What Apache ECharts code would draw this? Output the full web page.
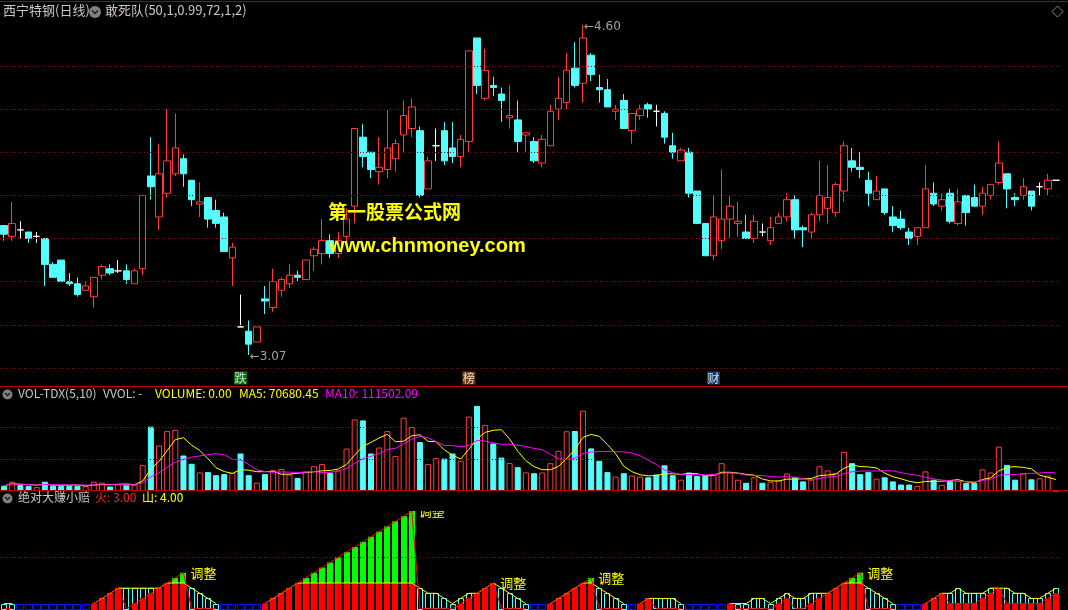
<!DOCTYPE html>
<html>
<head>
<meta charset="utf-8">
<script src="https://cdn.jsdelivr.net/npm/echarts@6/dist/echarts.min.js"></script>
<style>
html,body{margin:0;padding:0;background:#000;}
#c{width:1068px;height:610px;}
</style>
</head>
<body>
<div id="c"></div>
<script>
// ---------------- DATA ----------------
const openP  = [3.67,3.62,3.65,3.64,3.62,3.61,3.49,3.51,3.41,3.40,3.37,3.34,3.44,3.47,3.46,3.46,3.40,3.47,3.90,3.71,3.82,3.91,3.98,3.88,3.77,3.80,3.74,3.71,3.52,3.20,3.18,3.13,3.33,3.29,3.37,3.40,3.44,3.42,3.53,3.54,3.60,3.54,3.62,3.76,4.08,4.01,3.92,3.93,3.98,4.09,4.12,4.11,3.84,4.04,4.11,4.03,3.99,4.06,4.54,4.26,4.32,4.28,4.17,4.16,4.09,4.06,3.96,4.04,4.21,4.24,4.40,4.33,4.46,4.31,4.30,4.20,4.25,4.11,4.18,4.23,4.20,4.19,4.04,3.97,4.01,3.83,3.68,3.53,3.60,3.70,3.68,3.64,3.61,3.64,3.60,3.68,3.71,3.79,3.66,3.64,3.72,3.75,3.73,3.83,3.97,3.94,3.88,3.79,3.84,3.71,3.70,3.64,3.62,3.66,3.82,3.76,3.82,3.68,3.81,3.80,3.76,3.81,3.87,3.91,3.80,3.81,3.83,3.85,3.84,3.88];
const closeP = [3.63,3.68,3.65,3.61,3.62,3.49,3.43,3.41,3.40,3.35,3.39,3.43,3.48,3.45,3.46,3.42,3.46,3.81,3.85,3.91,3.97,4.03,3.91,3.79,3.78,3.70,3.68,3.55,3.57,3.20,3.12,3.20,3.32,3.41,3.42,3.44,3.43,3.51,3.56,3.60,3.54,3.60,3.70,4.12,3.99,3.93,3.94,4.03,4.05,4.18,4.22,3.81,3.97,4.04,3.97,3.99,4.07,4.48,4.32,4.39,4.31,4.25,4.18,4.06,4.10,3.97,4.07,4.20,4.26,4.39,4.32,4.54,4.37,4.30,4.22,4.21,4.12,4.19,4.21,4.21,4.20,4.08,4.01,4.02,3.82,3.68,3.53,3.71,3.70,3.76,3.69,3.61,3.69,3.64,3.66,3.71,3.79,3.65,3.65,3.72,3.81,3.80,3.86,4.04,3.94,3.93,3.82,3.83,3.73,3.67,3.66,3.61,3.66,3.84,3.77,3.79,3.69,3.78,3.73,3.76,3.82,3.86,3.96,3.84,3.79,3.85,3.76,3.85,3.88,3.88];
const lowP   = [3.60,3.60,3.61,3.59,3.59,3.39,3.43,3.41,3.39,3.34,3.37,3.29,3.42,3.44,3.45,3.40,3.40,3.44,3.79,3.65,3.80,3.90,3.85,3.76,3.71,3.66,3.66,3.55,3.39,3.20,3.07,3.13,3.26,3.27,3.34,3.38,3.41,3.42,3.46,3.49,3.52,3.52,3.59,3.68,3.94,3.89,3.86,3.89,3.92,4.01,4.08,3.80,3.84,3.97,3.95,3.96,3.94,4.01,4.28,4.25,4.27,4.15,4.12,4.01,4.01,3.96,3.94,4.04,4.16,4.21,4.31,4.24,4.34,4.24,4.22,4.16,4.12,4.05,4.16,4.17,4.13,4.05,3.98,3.97,3.80,3.68,3.53,3.51,3.56,3.61,3.62,3.61,3.59,3.62,3.58,3.68,3.69,3.61,3.57,3.61,3.69,3.68,3.71,3.78,3.92,3.89,3.76,3.79,3.72,3.64,3.65,3.58,3.58,3.66,3.76,3.74,3.68,3.67,3.67,3.76,3.72,3.79,3.86,3.75,3.76,3.79,3.74,3.81,3.81,3.88];
const highP  = [3.67,3.78,3.69,3.64,3.64,3.61,3.50,3.51,3.45,3.43,3.41,3.43,3.49,3.49,3.51,3.49,3.47,3.81,4.08,4.05,4.21,4.19,4.00,3.88,3.87,3.80,3.79,3.73,3.59,3.35,3.23,3.20,3.39,3.47,3.43,3.49,3.46,3.51,3.57,3.70,3.63,3.64,3.75,4.12,4.14,4.01,4.08,4.21,4.07,4.25,4.26,4.13,3.99,4.12,4.15,4.15,4.09,4.48,4.54,4.49,4.36,4.31,4.32,4.25,4.10,4.08,4.09,4.23,4.36,4.47,4.52,4.60,4.47,4.37,4.35,4.23,4.28,4.19,4.23,4.24,4.23,4.20,4.10,4.03,4.03,3.83,3.68,3.81,3.93,3.81,3.78,3.72,3.72,3.68,3.71,3.73,3.82,3.81,3.67,3.73,3.97,3.95,3.87,4.06,4.03,4.01,3.92,3.90,3.84,3.76,3.74,3.66,3.66,3.95,3.87,3.82,3.84,3.84,3.81,3.86,3.85,3.86,4.06,3.91,3.82,3.89,3.83,3.87,3.91,3.88];
const volume = [32500,58100,36900,32500,25600,58100,32500,32500,32500,32500,30000,58100,51900,28100,43100,38800,38800,161300,402500,284400,374400,383100,221900,170000,116300,118100,98800,105600,111900,234400,98800,51900,105600,129400,137500,103100,81900,122500,155000,168100,114400,129400,265000,447500,441300,234400,271300,374400,219400,458100,400000,305600,168100,206900,202500,234400,189400,465000,531900,413100,296900,208800,174400,148800,116300,111300,115600,173800,251300,373100,375000,501900,266300,188800,118100,90000,111300,96300,90000,85600,103100,160600,98800,70600,115600,94400,94400,107500,173800,115600,70600,51300,85600,51300,58100,66300,109400,85600,60000,70600,154400,128800,111300,244400,173800,105000,118100,77500,85600,60000,40600,40600,31900,122500,70600,38800,62500,62500,49400,49400,135000,115600,276900,163100,70600,109400,73100,79400,96300,0];
// 绝对大赚小赔 indicator: 火 (fire) and 山 (mountain), idle = flat state
const huo  = [0,0,0,0,0,0,0,0,0,0,0,1,2,3,4,0,1,2,3,4,5,6,7,0,0,0,0,0,0,0,0,0,1,2,3,4,5,6,7,8,9,10,11,12,13,14,15,16,17,18,19,0,0,0,0,0,1,2,3,4,5,0,0,0,0,0,0,1,2,3,4,5,6,0,0,0,0,0,1,2,0,0,0,0,0,0,0,0,0,1,0,0,0,0,0,1,2,0,0,1,2,3,4,5,6,7,0,0,0,0,0,0,0,1,2,3,1,1,1,1,2,3,4,1,1,1,1,1,2,3];
const shan = [1,1,1,1,1,1,1,1,1,1,1,1,2,3,4,4,4,4,4,4,5,5,5,4,3,2,1,1,1,1,1,1,1,2,3,4,5,5,5,5,5,5,5,5,5,5,5,5,5,5,5,4,3,3,2,1,2,3,3,4,5,4,3,2,1,1,1,1,2,3,4,5,5,4,3,2,1,1,1,2,2,2,2,1,1,1,1,1,1,1,1,1,2,2,1,2,3,2,2,3,3,3,4,5,5,5,4,3,2,1,1,1,1,1,2,3,3,4,3,3,3,4,4,4,3,3,2,2,3,4];
const idle = [0,0,1,1,1,1,1,1,1,1,1,0,0,0,0,0,0,0,0,0,0,0,0,0,0,0,0,1,1,1,1,1,0,0,0,0,0,0,0,0,0,0,0,0,0,0,0,0,0,0,0,0,0,0,0,0,0,0,0,0,0,0,0,0,0,1,1,0,0,0,0,0,0,0,0,0,0,1,0,0,0,0,0,0,1,1,1,1,1,0,0,0,0,0,0,0,0,0,0,0,0,0,0,0,0,0,0,0,0,0,1,1,1,0,0,0,0,0,0,0,0,0,0,0,0,0,0,0,0,0];
const priceGrid = [4.41,4.21,4.01,3.81,3.61,3.41,3.21,3.01];
const volGrid = [200000,400000];
const indGrid = [10];
const eventIdx = [29,57,87];
const eventText = ['跌','榜','财'];
const eventColor = ['#0b8a16','#8a4a10','#1d4f8c'];
const volTitle = {vol:'VOLUME: 0.00', ma5:'MA5: 70680.45', ma10:'MA10: 111502.09'};

// ---------------- DERIVED ----------------
const N = openP.length;
const days = Array.from({length:N},(_,i)=>String(i+1));
const RED='#ff3c3c', CYAN='#54fcfc';
const candles = openP.map((o,i)=>[o, closeP[i], lowP[i], highP[i]]);
const isUp = openP.map((o,i)=> closeP[i]>o || (closeP[i]===o && (i===0 || closeP[i]>=closeP[i-1])));
function ma(n){return volume.map((v,i)=>{const s=Math.max(0,i-n+1);let t=0;for(let k=s;k<=i;k++)t+=volume[k];return t/(i-s+1);});}
const ma5 = ma(5), ma10 = ma(10);
const hiMax = Math.max(...highP), iMax = highP.indexOf(hiMax);
const loMin = Math.min(...lowP), iMin = lowP.indexOf(loMin);
const peaks = huo.map((f,i)=> (f>=5 && (i===N-1 || huo[i+1]<f)) ? i : -1).filter(i=>i>=0);

const pMin = 2.926, pMax = 4.614;
const dotted = {type:[1,2], color:'#8a0000', width:1};

const chart = echarts.init(document.getElementById('c'), null, {renderer:'canvas'});
const xAx = (gi)=>({type:'category', gridIndex:gi, data:days, boundaryGap:true, show:false});
const option = {
  backgroundColor:'#000',
  animation:false,
  grid:[
    {left:0, right:8, top:22, height:364},
    {left:0, right:8, top:395, height:96},
    {left:0, right:8, top:511, bottom:0}
  ],
  xAxis:[xAx(0), xAx(1), xAx(2)],
  yAxis:[
    {type:'value', gridIndex:0, min:pMin, max:pMax, show:false, splitLine:{show:false}},
    {type:'value', gridIndex:1, min:0, max:600000, show:false, splitLine:{show:false}},
    {type:'value', gridIndex:2, min:-0.25, max:19, show:false, splitLine:{show:false}}
  ],
  series:[
    {type:'scatter', xAxisIndex:0, yAxisIndex:0, data:[], z:0, silent:true,
     markLine:{symbol:'none', silent:true, label:{show:false}, lineStyle:dotted, data:priceGrid.map(v=>({yAxis:v}))}},
    {type:'scatter', xAxisIndex:1, yAxisIndex:1, data:[], z:0, silent:true,
     markLine:{symbol:'none', silent:true, label:{show:false}, lineStyle:dotted, data:volGrid.map(v=>({yAxis:v}))}},
    {type:'scatter', xAxisIndex:2, yAxisIndex:2, data:[], z:0, silent:true,
     markLine:{symbol:'none', silent:true, label:{show:false}, lineStyle:dotted, data:indGrid.map(v=>({yAxis:v}))}},
    {type:'candlestick', xAxisIndex:0, yAxisIndex:0, data:candles, barWidth:7, z:3,
     itemStyle:{color:'#000', color0:CYAN, borderColor:RED, borderColor0:CYAN, borderColorDoji:'#ffffff', borderWidth:1}},
    {type:'scatter', xAxisIndex:0, yAxisIndex:0, symbolSize:0, z:4,
     data:[[iMax, hiMax],[iMin, loMin]],
     label:{show:true, position:'right', distance:1, color:'#c8c8c8', fontSize:12, fontFamily:'DejaVu Sans',
       offset:[0,2], formatter:p=>'\u2190' + p.value[1].toFixed(2)}},
    {type:'scatter', xAxisIndex:0, yAxisIndex:0, symbol:'rect', symbolSize:[13,13], z:4,
     data:eventIdx.map((ix,k)=>({value:[ix, pMin+0.037], itemStyle:{color:eventColor[k]},
        label:{show:true, position:'inside', formatter:eventText[k], color:'#fff', fontSize:12, fontFamily:'Noto Sans CJK SC'}}))},
    {type:'bar', xAxisIndex:1, yAxisIndex:1, barWidth:6, z:3,
     data:volume.map((v,i)=>({value:v, itemStyle: isUp[i] ? {color:'#000', borderColor:RED, borderWidth:1} : {color:CYAN, borderColor:CYAN, borderWidth:1}}))},
    {type:'line', xAxisIndex:1, yAxisIndex:1, data:ma5, symbol:'none', z:4, lineStyle:{color:'#ffff00', width:1}},
    {type:'line', xAxisIndex:1, yAxisIndex:1, data:ma10, symbol:'none', z:4, lineStyle:{color:'#ff00ff', width:1}},
    {type:'custom', xAxisIndex:2, yAxisIndex:2, clip:true, z:3,
     data:days.map((d,i)=>[i, huo[i], shan[i], idle[i]]),
     encode:{x:0, y:[1,2]},
     renderItem:function(params, api){
       const i=api.value(0), F=api.value(1), S=api.value(2), id=api.value(3);
       const band=api.size([1,0])[0];
       const c0=api.coord([i,0]);
       const cx=Math.round(c0[0]);
       const bottom=params.coordSys.y+params.coordSys.height;
       const ch=[];
       if(id){
         const t=api.coord([i,1]);
         ch.push({type:'rect', shape:{x:cx-band/2+0.5, y:Math.round(t[1])+0.5, width:band-1, height:Math.round(c0[1]-t[1])},
           style:{fill:null, stroke:'#1010ff', lineWidth:1}});
       } else if(S>0){
         const t=api.coord([i,S]);
         ch.push({type:'rect', shape:{x:cx-2.5, y:Math.round(t[1])+0.5, width:5, height:Math.round(c0[1]-t[1])},
           style:{fill:null, stroke:CYAN, lineWidth:1}});
       }
       if(F>0){
         const r=api.coord([i,Math.min(F,5)]);
         ch.push({type:'rect', shape:{x:cx-3, y:r[1], width:6, height:bottom-r[1]}, style:{fill:'#ff0000'}});
         if(F>5){
           const g=api.coord([i,F]);
           ch.push({type:'rect', shape:{x:cx-3, y:g[1], width:6, height:r[1]-g[1]}, style:{fill:'#00ff00'}});
         }
       }
       return {type:'group', children:ch};
     }},
    {type:'line', xAxisIndex:2, yAxisIndex:2, z:4, symbol:'none', connectNulls:false,
     data:shan.map((s,i)=> idle[i]?null:s), lineStyle:{color:'#ffff00', width:1}},
    {type:'line', xAxisIndex:2, yAxisIndex:2, z:4, symbol:'none', connectNulls:false,
     data:huo.map((f,i)=> idle[i]?null:f), lineStyle:{color:'#ff0000', width:1}},
    {type:'custom', xAxisIndex:2, yAxisIndex:2, clip:true, z:5,
     data:peaks.map(i=>[i, huo[i]]),
     renderItem:function(params, api){
       const p=api.coord([api.value(0), api.value(1)]);
       return {type:'text', x:p[0]+7, y:p[1], style:{text:'调整', fill:'#ffff00', font:'13px "Noto Sans CJK SC"', verticalAlign:'middle', align:'left'}};
     }}
  ],
  graphic:[
    {type:'line', shape:{x1:0,y1:1.5,x2:1068,y2:1.5}, style:{stroke:'#a00000', lineWidth:1}, z:10},
    {type:'line', shape:{x1:0,y1:386.5,x2:1068,y2:386.5}, style:{stroke:'#c00000', lineWidth:1}, z:10},
    {type:'line', shape:{x1:0,y1:490.5,x2:1068,y2:490.5}, style:{stroke:'#c00000', lineWidth:1}, z:10},
    {type:'text', left:3, top:4, style:{text:'西宁特钢(日线)', fill:'#c8c8c8', font:'13px "Noto Sans CJK SC"'}, z:10},
    {type:'circle', shape:{cx:95, cy:12, r:6}, style:{fill:'#808080'}, z:10},
    {type:'polyline', shape:{points:[[92,10.5],[95,13.5],[98,10.5]]}, style:{stroke:'#202020', lineWidth:1.5}, z:11},
    {type:'text', left:105, top:4, style:{text:'敢死队(50,1,0.99,72,1,2)', fill:'#c8c8c8', font:'13px "Noto Sans CJK SC"'}, z:10},
    {type:'polygon', shape:{points:[[1057.5,6],[1063,11.5],[1057.5,17],[1052,11.5]]}, style:{fill:null, stroke:'#8a8a8a', lineWidth:1}, z:10},
    {type:'text', left:328, top:202, style:{text:'第一股票公式网', fill:'#ffff00', font:'bold 19px "Noto Sans CJK SC"'}, z:10},
    {type:'text', left:329, top:236, style:{text:'www.chnmoney.com', fill:'#ffff00', font:'bold 20px "Liberation Sans"'}, z:10},
    {type:'circle', shape:{cx:7.5, cy:394.5, r:5}, style:{fill:'#808080'}, z:10},
    {type:'polyline', shape:{points:[[5,393],[7.5,395.5],[10,393]]}, style:{stroke:'#202020', lineWidth:1.5}, z:11},
    {type:'text', left:18, top:387, style:{text:'VOL-TDX(5,10)', fill:'#c8c8c8', font:'12px "Noto Sans CJK SC"'}, z:10},
    {type:'text', left:103, top:387, style:{text:'VVOL: -', fill:'#c8c8c8', font:'12px "Noto Sans CJK SC"'}, z:10},
    {type:'text', left:155, top:387, style:{text:volTitle.vol, fill:'#ffff00', font:'12px "Noto Sans CJK SC"'}, z:10},
    {type:'text', left:239, top:387, style:{text:volTitle.ma5, fill:'#ffff00', font:'12px "Noto Sans CJK SC"'}, z:10},
    {type:'text', left:325, top:387, style:{text:volTitle.ma10, fill:'#ff00ff', font:'12px "Noto Sans CJK SC"'}, z:10},
    {type:'circle', shape:{cx:7.5, cy:498.5, r:5}, style:{fill:'#808080'}, z:10},
    {type:'polyline', shape:{points:[[5,497],[7.5,499.5],[10,497]]}, style:{stroke:'#202020', lineWidth:1.5}, z:11},
    {type:'text', left:18, top:491, style:{text:'绝对大赚小赔', fill:'#c8c8c8', font:'12px "Noto Sans CJK SC"'}, z:10},
    {type:'text', left:95, top:491, style:{text:'火: ' + huo[N-1].toFixed(2), fill:'#ff2020', font:'12px "Noto Sans CJK SC"'}, z:10},
    {type:'text', left:142, top:491, style:{text:'山: ' + shan[N-1].toFixed(2), fill:'#ffff00', font:'12px "Noto Sans CJK SC"'}, z:10}
  ]
};
chart.setOption(option);
</script>
</body>
</html>
